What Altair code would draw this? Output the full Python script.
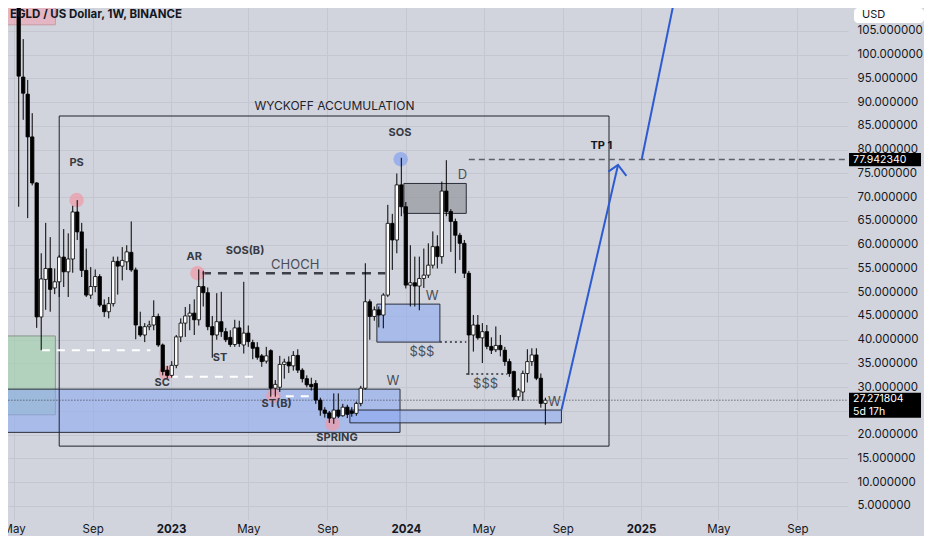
import altair as alt
import pandas as pd


'''
Weekly EGLD / USD candles (Binance), first candle opens 2022-05-09
'''
opens = [118.0, 95.3, 91.7, 82.7, 73.0, 44.8, 52.7, 55.0, 50.9, 52.2,
         57.4, 54.3, 57.0, 66.9, 62.7, 54.6, 49.4, 51.2, 53.3, 47.3,
         45.9, 47.6, 56.5, 55.5, 56.4, 58.4, 54.7, 42.75, 41.0, 42.75,
         43.1, 44.9, 38.9, 33.6, 32.5, 34.6, 40.6, 43.5, 45.0, 45.6,
         44.2, 51.2, 49.9, 42.75, 41.0, 43.8, 41.7, 40.5, 39.0, 42.5,
         38.9, 41.4, 39.4, 38.4, 36.6, 35.5, 37.7, 29.8, 30.0, 34.8,
         35.3, 34.5, 36.7, 33.6, 31.8, 30.6, 30.8, 27.3, 25.2, 24.6,
         23.5, 25.2, 24.0, 25.8, 25.0, 24.5, 26.6, 29.8, 48.0, 44.9,
         46.3, 45.2, 49.4, 64.5, 61.0, 72.6, 68.0, 51.5, 52.0, 51.3,
         52.9, 53.6, 55.7, 59.6, 57.5, 71.3, 67.0, 64.9, 62.0, 60.3,
         54.0, 41.0, 43.1, 40.4, 41.7, 38.6, 37.9, 38.8, 37.8, 35.4,
         33.3, 28.0, 29.0, 32.9, 35.4, 36.8, 31.9, 26.6]
highs = [125.0, 103.3, 94.7, 87.7, 73.2, 58.2, 64.6, 61.6, 55.0, 57.8,
         63.3, 62.4, 68.2, 69.4, 64.6, 59.2, 55.3, 54.8, 53.8, 48.5,
         49.0, 57.5, 57.5, 59.5, 59.9, 64.9, 55.2, 45.9, 43.5, 44.0,
         48.3, 45.5, 39.2, 34.5, 35.5, 41.0, 44.5, 46.9, 47.5, 48.5,
         54.8, 54.5, 51.0, 45.0, 49.8, 50.1, 42.5, 42.0, 44.2, 44.0,
         52.2, 43.0, 40.0, 39.5, 37.0, 38.5, 38.0, 31.5, 36.6, 36.0,
         36.5, 37.6, 38.0, 34.0, 32.5, 32.0, 31.5, 27.8, 25.8, 25.0,
         28.7, 28.7, 26.5, 26.3, 25.8, 27.0, 30.3, 56.1, 48.5, 47.0,
         47.0, 49.8, 68.4, 66.5, 75.0, 78.3, 69.0, 59.9, 57.5, 57.5,
         59.2, 60.3, 62.8, 62.0, 73.3, 77.8, 67.5, 65.5, 62.5, 61.0,
         54.5, 45.2, 45.2, 43.5, 43.1, 40.5, 42.8, 41.0, 38.5, 36.0,
         33.5, 29.8, 33.5, 38.0, 38.2, 38.2, 32.9, 27.8]
lows = [68.0, 86.3, 65.6, 72.5, 42.5, 37.8, 46.3, 45.9, 49.6, 49.0,
        51.1, 49.0, 54.1, 61.0, 53.2, 49.0, 48.6, 50.0, 46.9, 44.8,
        44.5, 47.0, 49.5, 52.5, 54.7, 54.3, 40.1, 40.6, 39.5, 42.0,
        42.0, 38.5, 32.5, 31.8, 32.0, 34.0, 39.5, 40.6, 42.0, 41.0,
        43.0, 47.0, 42.0, 36.2, 40.0, 40.6, 39.5, 38.5, 38.5, 38.5,
        37.1, 38.5, 35.9, 35.8, 34.3, 35.0, 28.0, 28.0, 29.0, 31.8,
        33.0, 33.5, 33.0, 31.0, 30.0, 29.3, 26.5, 24.0, 23.6, 22.5,
        22.3, 23.5, 23.8, 23.5, 23.8, 24.0, 26.0, 29.5, 40.0, 44.0,
        42.6, 42.4, 49.0, 54.7, 58.2, 66.0, 50.8, 47.0, 47.0, 46.2,
        50.9, 53.0, 55.0, 55.0, 56.0, 66.0, 58.5, 54.0, 56.8, 53.0,
        32.6, 37.5, 40.0, 35.1, 38.0, 37.0, 37.4, 36.5, 34.5, 32.2,
        27.3, 27.2, 27.1, 31.0, 34.5, 31.5, 25.7, 22.1]
closes = [95.5, 91.9, 82.7, 73.0, 44.8, 52.8, 55.0, 50.6, 52.2, 57.4,
          54.3, 57.0, 66.9, 62.7, 54.6, 49.4, 51.2, 53.3, 47.3, 45.9,
          47.6, 56.5, 55.5, 56.7, 58.5, 54.7, 43.1, 41.0, 42.75, 43.1,
          44.9, 38.9, 33.3, 32.5, 34.6, 40.6, 43.5, 45.0, 45.6, 44.2,
          51.2, 49.9, 42.75, 41.0, 43.8, 41.7, 40.0, 39.0, 42.5, 39.2,
          41.4, 39.6, 38.2, 36.3, 35.4, 36.6, 29.8, 30.6, 34.8, 35.3,
          34.5, 36.7, 33.6, 31.8, 30.5, 30.1, 27.3, 25.2, 24.5, 23.5,
          25.2, 23.9, 25.8, 24.3, 24.5, 26.6, 29.8, 48.0, 44.9, 46.3,
          45.2, 49.4, 64.5, 61.0, 72.6, 68.0, 51.5, 52.0, 51.3, 52.9,
          53.6, 55.7, 59.6, 57.5, 71.3, 67.0, 64.9, 62.0, 60.3, 54.0,
          41.0, 43.1, 40.4, 41.7, 38.6, 37.8, 38.8, 37.9, 35.4, 32.9,
          28.0, 29.4, 32.9, 35.4, 36.8, 31.9, 26.6, 27.271804]
weeks = pd.date_range('2022-05-09', periods=len(opens), freq='7D').strftime('%Y-%m-%d')

'''
Drawn zones (boxes)
'''
zone_start = ['2022-04-20', '2022-04-20', '2022-04-20', '2023-12-29', '2023-11-17', '2023-10-06']
zone_end = ['2022-07-05', '2022-07-05', '2023-12-23', '2024-04-04', '2024-02-23', '2024-08-30']
zone_top = [115.0, 40.8, 29.6, 72.9, 47.5, 25.2]
zone_bottom = [106.3, 24.2, 20.5, 66.6, 39.5, 22.5]
zone_fill = ['#f0a0b0', '#9fd1a9', '#8eaaf2', '#8a8c93', '#8eaaf2', '#8eaaf2']
zone_stroke = ['#c99aa4', '#8a948e', '#2a2e39', '#2a2e39', '#2a2e39', '#2a2e39']

# Wyckoff range frame
range_start, range_end = '2022-07-11', '2024-11-12'
range_top, range_bottom = 87.1, 17.6

'''
Horizontal levels
'''
choch_start, choch_end, choch_price = '2023-02-18', '2023-11-30', 54.0
white_start = ['2022-06-14', '2022-12-30', '2023-06-05']
white_end = ['2022-11-30', '2023-05-13', '2023-08-16']
white_price = [37.8, 32.2, 28.1]
liq_start = ['2024-02-23', '2024-04-04']
liq_end = ['2024-04-04', '2024-06-07']
liq_price = [39.5, 32.8]
tp_price = 77.94234
last_price = 27.271804

'''
Projection arrow
'''
arrow_seg = ['up', 'up', 'head', 'head', 'head', 'target', 'target']
arrow_date = ['2024-08-30', '2024-11-26', '2024-11-11', '2024-11-26', '2024-12-09', '2025-01-02', '2025-03-03']
arrow_price = [25.2, 76.8, 75.4, 76.8, 74.5, 78.05, 117.8]

'''
Markers and labels
'''
circle_date = ['2022-08-07', '2023-02-11', '2022-12-24', '2023-06-09', '2023-09-09', '2023-12-24']
circle_price = [69.4, 54.0, 33.0, 28.2, 22.3, 78.0]
circle_fill = ['#ee9cab', '#ee9cab', '#ee9cab', '#ee9cab', '#ee9cab', '#8aa6ee']

marker_text = ['PS', 'AR', 'SOS(B)', 'ST', 'SC', 'ST(B)', 'SPRING', 'SOS']
marker_date = ['2022-08-07', '2023-02-06', '2023-04-26', '2023-03-18', '2022-12-18', '2023-06-14', '2023-09-16', '2023-12-23']
marker_price = [77.2, 57.4, 58.6, 36.2, 30.9, 26.5, 19.3, 83.5]

note_text = ['CHOCH', 'D', 'W', '$$$', 'W', '$$$', 'W']
note_date = ['2023-07-13', '2024-03-29', '2024-02-11', '2024-01-26', '2023-12-12', '2024-05-04', '2024-08-19']
note_price = [55.7, 74.7, 49.2, 37.4, 31.3, 30.7, 26.9]

tick_months = [(2022, 5), (2022, 9), (2023, 1), (2023, 5), (2023, 9), (2024, 1),
               (2024, 5), (2024, 9), (2025, 1), (2025, 5), (2025, 9)]
price_ticks = list(range(5, 110, 5))

FONT = 'Inter'
INK = '#131722'

xscale = alt.Scale(
  type='utc',
  domain=[alt.DateTime(year=2022, month=4, date=30, hours=3, utc=True),
          alt.DateTime(year=2025, month=11, date=10, hours=21, utc=True)]
)
yscale = alt.Scale(domain=[2.05, 109.84], zero=False, nice=False)

x_axis = alt.Axis(
  values=[alt.DateTime(year=y, month=m, date=1, utc=True) for y, m in tick_months],
  labelExpr="utcFormat(datum.value, utcmonth(datum.value) == 0 ? '%Y' : '%b')",
  labelFontWeight={'condition': {'test': 'utcmonth(datum.value) == 0', 'value': 'bold'}, 'value': 'normal'},
  grid=True, gridColor='#c4c7cf', gridWidth=1,
  ticks=False, domain=False,
  labelColor=INK, labelFont=FONT, labelFontSize=11.5, labelPadding=3,
  labelFlush=False, labelOverlap=False, labelAlign='center'
)
y_axis = alt.Axis(
  orient='right', values=price_ticks,
  labelExpr="datum.value == 25 ? '' : format(datum.value, '.6f')",
  grid=True, gridColor='#c4c7cf', gridWidth=1,
  ticks=False, domain=False,
  labelAlign='left', labelPadding=9,
  labelColor=INK, labelFont=FONT, labelFontSize=11.5
)


def X(field):
  return alt.X(f'{field}:T', scale=xscale, axis=x_axis, title=None)


def Y(field):
  return alt.Y(f'{field}:Q', scale=yscale, axis=y_axis, title=None)


candles = pd.DataFrame({'week': weeks, 'open': opens, 'high': highs, 'low': lows, 'close': closes})
zones = pd.DataFrame({'start': zone_start, 'end': zone_end, 'top': zone_top,
                      'bottom': zone_bottom, 'fill': zone_fill, 'stroke': zone_stroke})
frame = pd.DataFrame({'start': [range_start], 'end': [range_end], 'top': [range_top], 'bottom': [range_bottom]})
choch = pd.DataFrame({'start': [choch_start], 'end': [choch_end], 'price': [choch_price]})
white = pd.DataFrame({'start': white_start, 'end': white_end, 'price': white_price})
liq = pd.DataFrame({'start': liq_start, 'end': liq_end, 'price': liq_price})
tp = pd.DataFrame({'start': ['2024-04-08'], 'end': ['2025-12-31'], 'price': [tp_price]})
last = pd.DataFrame({'start': ['2022-01-01'], 'end': ['2025-12-31'], 'price': [last_price]})
arrow = pd.DataFrame({'seg': arrow_seg, 'ord': range(len(arrow_seg)), 'date': arrow_date, 'price': arrow_price})
circles = pd.DataFrame({'date': circle_date, 'price': circle_price, 'fill': circle_fill})
markers = pd.DataFrame({'date': marker_date, 'price': marker_price, 'text': marker_text})
notes = pd.DataFrame({'date': note_date, 'price': note_price, 'text': note_text})

# Boxes
zone_layer = alt.Chart(zones).mark_rect(strokeWidth=1, fillOpacity=0.6, clip=True).encode(
  x=X('start'), x2='end:T', y=Y('top'), y2='bottom:Q',
  fill=alt.Fill('fill:N', scale=None), stroke=alt.Stroke('stroke:N', scale=None)
)
frame_layer = alt.Chart(frame).mark_rect(fillOpacity=0, stroke='#1e222d', strokeWidth=1, clip=True).encode(
  x=X('start'), x2='end:T', y=Y('top'), y2='bottom:Q'
)

# Levels
def level(df, color, width, dash):
  return alt.Chart(df).mark_rule(color=color, strokeWidth=width, strokeDash=dash, clip=True).encode(
    x=X('start'), x2='end:T', y=Y('price')
  )

last_layer = level(last, '#3b3e48', 1, [1, 2])
tp_layer = level(tp, '#5d606b', 1.5, [6, 4])
choch_layer = level(choch, '#3c3f47', 2.5, [9, 7])
white_layer = level(white, '#ffffff', 2, [8, 7])
liq_layer = level(liq, '#2a2e39', 1.5, [2, 3])

circle_layer = alt.Chart(circles).mark_circle(size=210, opacity=0.75, clip=True).encode(
  x=X('date'), y=Y('price'), color=alt.Color('fill:N', scale=None)
)

# Candles
wick_layer = alt.Chart(candles).mark_rule(color='#000000', strokeWidth=1, clip=True).encode(
  x=X('week'), y=Y('low'), y2='high:Q'
)
body_layer = alt.Chart(candles).mark_bar(size=3.4, stroke='#000000', strokeWidth=0.8, clip=True).encode(
  x=X('week'), y=Y('open'), y2='close:Q',
  fill=alt.condition('datum.close >= datum.open', alt.value('#ffffff'), alt.value('#000000'))
)

arrow_layer = alt.Chart(arrow).mark_line(color='#2d5bd1', strokeWidth=2, clip=True).encode(
  x=X('date'), y=Y('price'), detail='seg:N', order='ord:Q'
)

marker_layer = alt.Chart(markers).mark_text(font=FONT, fontSize=11, fontWeight='bold', color='#363a45').encode(
  x=X('date'), y=Y('price'), text='text:N'
)
note_layer = alt.Chart(notes).mark_text(font=FONT, fontSize=13, color='#4a4d57').encode(
  x=X('date'), y=Y('price'), text='text:N'
)
tp_text = alt.Chart(pd.DataFrame({'date': ['2024-10-31'], 'price': [80.8], 'text': ['TP 1']})).mark_text(
  font=FONT, fontSize=11, fontWeight='bold', color=INK
).encode(x=X('date'), y=Y('price'), text='text:N')
range_text = alt.Chart(pd.DataFrame({'date': ['2023-09-12'], 'price': [89.2], 'text': ['WYCKOFF ACCUMULATION']})).mark_text(
  font=FONT, fontSize=12, color='#1e222d'
).encode(x=X('date'), y=Y('price'), text='text:N')

# Price tags on the scale
tags = pd.DataFrame({'top': [79.3, 28.84], 'bottom': [76.5, 23.6]})
tag_layer = alt.Chart(tags).mark_rect(color='#000000').encode(
  x=alt.value(841), x2=alt.value(913), y=Y('top'), y2='bottom:Q'
)
tag_text = alt.Chart(pd.DataFrame({
  'price': [tp_price, last_price + 0.15, 24.75],
  'text': ['77.942340', '27.271804', '5d 17h']
})).mark_text(font=FONT, fontSize=10.5, color='#ffffff', align='left').encode(
  x=alt.value(845), y=Y('price'), text='text:N'
)

usd_box = alt.Chart(pd.DataFrame({'text': ['USD']})).mark_rect(color='#ffffff', cornerRadius=4).encode(
  x=alt.value(846), x2=alt.value(916), y=alt.value(0), y2=alt.value(15)
)
usd_text = alt.Chart(pd.DataFrame({'text': ['USD']})).mark_text(
  font=FONT, fontSize=11, color=INK, align='left'
).encode(x=alt.value(854), y=alt.value(7), text='text:N')

title_text = alt.Chart(pd.DataFrame({'text': ['EGLD / US Dollar, 1W, BINANCE']})).mark_text(
  font=FONT, fontSize=11.5, fontWeight='bold', color=INK, align='left'
).encode(x=alt.value(2), y=alt.value(7), text='text:N')

chart = alt.layer(
  zone_layer, frame_layer, last_layer, tp_layer, choch_layer, white_layer, liq_layer,
  circle_layer, wick_layer, body_layer, arrow_layer,
  marker_layer, note_layer, tp_text, range_text,
  tag_layer, tag_text, usd_box, usd_text, title_text
).properties(
  width=840,
  height=512,
  background='#d1d4dc',
  padding={'left': 0, 'top': 0, 'right': 76, 'bottom': 16},
  autosize=alt.AutoSizeParams(type='none')
).configure_view(stroke=None)

chart.save('out.html', embed_options={'renderer': 'svg', 'actions': False})
